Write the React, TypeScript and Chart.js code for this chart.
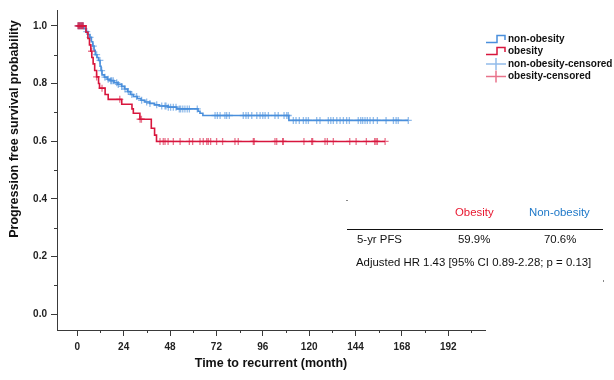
import { useEffect, useRef } from 'react';
import { Chart, registerables } from 'chart.js';

Chart.register(...registerables);

// ---------- data ----------
const xTicks = [0, 24, 48, 72, 96, 120, 144, 168, 192];
const xMinorTicks = [12, 36, 60, 84, 108, 132, 156, 180, 204];
const yTicks = [0, 0.2, 0.4, 0.6, 0.8, 1.0];
const yMinorTicks = [0.1, 0.3, 0.5, 0.7, 0.9];

// Kaplan-Meier steps: non-obesity
const nonObesityTimes = [0, 3.5, 4.5, 5.5, 6.5, 7.3, 8, 8.7, 9.3, 10.2, 11, 11.8, 12.3, 12.8, 14, 15.5, 17, 19, 21, 23, 24.5, 26, 27.5, 29, 31, 33, 35, 37.5, 40, 42.5, 47, 51.5, 62.5, 63.5, 65, 109.5, 171.3];
const nonObesitySurv = [1, 0.99, 0.98, 0.97, 0.96, 0.945, 0.93, 0.915, 0.9, 0.89, 0.88, 0.86, 0.845, 0.83, 0.822, 0.815, 0.81, 0.803, 0.797, 0.79, 0.781, 0.772, 0.762, 0.755, 0.748, 0.742, 0.736, 0.731, 0.726, 0.722, 0.718, 0.712, 0.704, 0.697, 0.689, 0.672, 0.672];
const nonObesityCensored = [0.5, 1, 1.5, 2, 2.5, 3, 4.9, 6.6, 8.3, 10, 11.7, 12.6, 14.3, 16, 17.3, 17.8, 18.6, 20.4, 21.2, 23, 24.7, 26.4, 28.2, 30.7, 33.3, 35.9, 37.6, 41.1, 43.7, 45.4, 45.9, 47.1, 48.3, 49.7, 51.1, 52.8, 53.5, 54.6, 55.7, 56.9, 58, 62.1, 71.3, 72.5, 73.9, 76.4, 77.3, 78.7, 85.9, 87.3, 88.5, 90.3, 92.9, 94.6, 96, 97.2, 98.9, 102.3, 104, 107, 108.4, 109.2, 111.8, 113.2, 114.9, 117, 118.4, 119.6, 123.9, 125.6, 129.9, 131.2, 132.5, 134.3, 136, 137.7, 139.4, 140.8, 145.4, 146.7, 147.7, 148.9, 150.1, 151.5, 153.2, 155.3, 159.8, 163.6, 165, 166.1, 171.3];

// Kaplan-Meier steps: obesity
const obesityTimes = [0, 4.5, 5.5, 6.3, 7, 7.5, 8.2, 9, 10, 11, 11.5, 14.4, 16, 23, 28.3, 29, 32.4, 38.3, 40, 41, 159.3];
const obesitySurv = [1, 0.978, 0.956, 0.934, 0.912, 0.89, 0.868, 0.845, 0.823, 0.8, 0.784, 0.762, 0.745, 0.728, 0.712, 0.697, 0.676, 0.645, 0.621, 0.599, 0.599];
const obesityCensored = [0.3, 0.7, 1.1, 1.5, 1.9, 2.3, 2.7, 3.1, 7.4, 10, 12.8, 22, 32.5, 33.2, 42.8, 44.5, 45.4, 47, 49.7, 53.2, 58, 59.7, 63.5, 65.2, 67, 67.8, 69, 72.1, 75.2, 81.6, 83.3, 91.1, 91.6, 102.3, 103.2, 106.3, 106.6, 117.3, 121.3, 121.8, 128.2, 129.4, 132.5, 141, 144.3, 149.6, 153.9, 154.6, 155.3, 159.3];

const legendLabels = ['non-obesity', 'obesity', 'non-obesity-censored', 'obesity-censored'];
const tableHeaders = ['Obesity', 'Non-obesity'];
const pfsLabel = '5-yr PFS';
const pfsValues = ['59.9%', '70.6%'];
const hrText = 'Adjusted HR 1.43 [95% CI 0.89-2.28; p = 0.13]';
const xTitle = 'Time to recurrent (month)';
const yTitle = 'Progression free survival probability';

// ---------- styles ----------
const BLUE = '#4a8fdc';
const RED = '#d8163d';
const BLUE_C = 'rgba(74,143,220,0.6)';
const RED_C = 'rgba(216,22,61,0.6)';
const AXIS = '#3a3a3a';
const SANS = '"Liberation Sans", Arial, sans-serif';

const steps = (times: number[], surv: number[]) => times.map((t, i) => ({ x: t, y: surv[i] }));
const survAt = (times: number[], surv: number[], t: number) => {
  let s = surv[0];
  for (let i = 0; i < times.length; i++) if (times[i] <= t) s = surv[i];
  return s;
};
const censorPoints = (cens: number[], times: number[], surv: number[]) =>
  cens.map((t) => ({ x: t, y: survAt(times, surv, t) }));

const overlay = {
  id: 'overlay',
  afterDraw(chart: any) {
    const ctx = chart.ctx as CanvasRenderingContext2D;
    const xs = chart.scales.x;
    const ys = chart.scales.y;
    const area = chart.chartArea;
    ctx.save();
    // minor ticks
    ctx.strokeStyle = AXIS;
    ctx.lineWidth = 1;
    ctx.beginPath();
    yMinorTicks.forEach((v) => {
      const py = Math.round(ys.getPixelForValue(v)) + 0.5;
      ctx.moveTo(area.left - 3, py);
      ctx.lineTo(area.left, py);
    });
    xMinorTicks.forEach((v) => {
      const px = Math.round(xs.getPixelForValue(v)) + 0.5;
      ctx.moveTo(px, area.bottom);
      ctx.lineTo(px, area.bottom + 3);
    });
    ctx.stroke();

    // axis titles
    ctx.fillStyle = '#111';
    ctx.font = `bold 12.5px ${SANS}`;
    ctx.textAlign = 'center';
    ctx.textBaseline = 'middle';
    ctx.fillText(xTitle, (area.left + area.right) / 2, 364);
    ctx.save();
    ctx.translate(15, 129);
    ctx.rotate(-Math.PI / 2);
    ctx.fillText(yTitle, 0, 0);
    ctx.restore();

    // legend
    const lx0 = 486, lx1 = 506, tx = 508;
    const rows = [39, 51, 64, 76.5];
    ctx.font = `bold 10px ${SANS}`;
    ctx.textAlign = 'left';
    ctx.fillStyle = '#111';
    legendLabels.forEach((lab, i) => ctx.fillText(lab, tx, rows[i]));
    [BLUE, RED].forEach((c, i) => {
      const y = rows[i];
      ctx.strokeStyle = c;
      ctx.lineWidth = 1.5;
      ctx.beginPath();
      ctx.moveTo(lx0, y + 3.5);
      ctx.lineTo(497, y + 3.5);
      ctx.lineTo(497, y - 3.5);
      ctx.lineTo(505, y - 3.5);
      ctx.lineTo(505, y + 1);
      ctx.stroke();
    });
    [BLUE_C, RED_C].forEach((c, i) => {
      const y = rows[i + 2];
      ctx.strokeStyle = c;
      ctx.lineWidth = 1.5;
      ctx.beginPath();
      ctx.moveTo(lx0, y);
      ctx.lineTo(lx1, y);
      ctx.moveTo(496, y - 6);
      ctx.lineTo(496, y + 6);
      ctx.stroke();
    });

    // annotation table
    ctx.font = `11.4px ${SANS}`;
    ctx.textAlign = 'left';
    ctx.fillStyle = '#e8172f';
    ctx.fillText(tableHeaders[0], 455, 213);
    ctx.fillStyle = '#1e78c8';
    ctx.fillText(tableHeaders[1], 529, 213);
    ctx.strokeStyle = '#111';
    ctx.lineWidth = 1;
    ctx.beginPath();
    ctx.moveTo(347, 229.5);
    ctx.lineTo(603, 229.5);
    ctx.stroke();
    ctx.fillStyle = '#111';
    ctx.fillText(pfsLabel, 357, 240);
    ctx.fillText(pfsValues[0], 458, 240);
    ctx.fillText(pfsValues[1], 544, 240);
    ctx.fillText(hrText, 356, 263);
    // small corner marks
    ctx.fillStyle = '#888';
    ctx.fillRect(346, 200, 2, 1);
    ctx.fillRect(603, 280, 1, 2);
    ctx.restore();
  },
};

export default function App() {
  const ref = useRef<HTMLCanvasElement | null>(null);
  useEffect(() => {
    if (!ref.current) return;
    const tickFont = { family: SANS, size: 10, weight: 'bold' as const };
    const chart = new Chart(ref.current, {
      type: 'line',
      data: {
        datasets: [
          {
            type: 'scatter',
            label: legendLabels[3],
            data: censorPoints(obesityCensored, obesityTimes, obesitySurv),
            pointStyle: 'cross',
            pointRadius: 3.5,
            pointBorderWidth: 1.3,
            borderColor: RED_C,
            backgroundColor: RED_C,
            showLine: false,
            order: 1,
          } as any,
          {
            type: 'line',
            label: legendLabels[1],
            data: steps(obesityTimes, obesitySurv),
            stepped: 'before',
            borderColor: RED,
            borderWidth: 1.6,
            pointRadius: 0,
            fill: false,
            order: 2,
          } as any,
          {
            type: 'scatter',
            label: legendLabels[2],
            data: censorPoints(nonObesityCensored, nonObesityTimes, nonObesitySurv),
            pointStyle: 'cross',
            pointRadius: 3.5,
            pointBorderWidth: 1.3,
            borderColor: BLUE_C,
            backgroundColor: BLUE_C,
            showLine: false,
            order: 3,
          } as any,
          {
            type: 'line',
            label: legendLabels[0],
            data: steps(nonObesityTimes, nonObesitySurv),
            stepped: 'before',
            borderColor: BLUE,
            borderWidth: 1.6,
            pointRadius: 0,
            fill: false,
            order: 4,
          } as any,
        ],
      },
      options: {
        animation: false,
        responsive: true,
        maintainAspectRatio: false,
        events: [],
        layout: { padding: { left: 0, top: 8, right: 129, bottom: 0 } },
        plugins: { legend: { display: false }, tooltip: { enabled: false } },
        scales: {
          x: {
            type: 'linear',
            min: -10.5,
            max: 211,
            afterBuildTicks: (s: any) => {
              s.ticks = xTicks.map((v) => ({ value: v }));
            },
            afterFit: (s: any) => {
              s.height = 50;
            },
            ticks: { font: tickFont, color: '#222', padding: 5, maxRotation: 0, autoSkip: false },
            grid: { drawOnChartArea: false, drawTicks: true, tickLength: 6, color: AXIS },
            border: { display: true, color: AXIS, width: 1 },
          },
          y: {
            type: 'linear',
            min: -0.055,
            max: 1.055,
            afterBuildTicks: (s: any) => {
              s.ticks = yTicks.map((v) => ({ value: v }));
            },
            afterFit: (s: any) => {
              s.width = 57;
            },
            ticks: {
              font: tickFont,
              color: '#222',
              padding: 4,
              autoSkip: false,
              callback: (v: any) => Number(v).toFixed(1),
            },
            grid: { drawOnChartArea: false, drawTicks: true, tickLength: 6, color: AXIS },
            border: { display: true, color: AXIS, width: 1 },
          },
        },
      } as any,
      plugins: [overlay],
    });
    return () => chart.destroy();
  }, []);
  return (
    <div style={{ position: 'absolute', left: 0, top: 0, width: 614, height: 380, background: '#fff' }}>
      <canvas ref={ref} />
    </div>
  );
}
